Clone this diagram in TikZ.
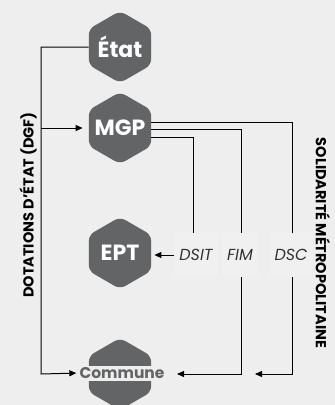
\documentclass[tikz,border=0pt]{standalone}
\usepackage{fontspec}
\setmainfont{Poppins}
\usetikzlibrary{shapes.geometric,arrows.meta}
\definecolor{bgc}{HTML}{EDEEED}
\definecolor{hexc}{HTML}{636466}
\definecolor{boxc}{HTML}{F0F0F0}
\begin{document}
\begin{tikzpicture}[x=1pt,y=-1pt,
  hex/.style={regular polygon, regular polygon sides=6, shape border rotate=30, minimum size=72pt, inner sep=0pt, fill=hexc, rounded corners=6pt},
  hextext/.style={text=white, inner sep=0pt, font=\bfseries\fontsize{22}{22}\selectfont},
  lbl/.style={fill=boxc, minimum height=44pt, inner xsep=5pt, inner ysep=0pt, font=\itshape\fontsize{16}{16}\selectfont, text=black!80},
  conn/.style={draw=black, line width=1pt},
  arr/.style={conn, -{Triangle[length=7pt,width=6pt]}},
  side/.style={inner sep=0pt, font=\bfseries\fontsize{14.5}{14.5}\selectfont}
]
\fill[bgc] (0,0) rectangle (335,405);
\useasboundingbox (0,0) rectangle (335,405);
% hexagons
\node[hex] (etat) at (120,47) {};
\node[hextext] (etattxt) at (etat.center) {État};
\node[hex] (mgp) at (120,128) {};
\node[hextext] (mgptxt) at (mgp.center) {MGP};
\node[hex] (ept) at (120,253) {};
\node[hextext] (epttxt) at (ept.center) {EPT};
\node[hex] (communehex) at (120,374) {};
\fill[bgc] (85,366) rectangle (155,381);
\node[inner sep=0pt, text=hexc, font=\bfseries\fontsize{15.5}{15.5}\selectfont] (commune) at (122,373) {Commune};
% labels
\node[lbl] (dsit) at (196,255) {DSIT};
\node[lbl] (fim) at (240,255) {FIM};
\node[lbl] (dsc) at (291,255) {DSC};
% side labels
\node[side, rotate=90] (dgf) at (28,205) {DOTATIONS D'ÉTAT (DGF)};
\node[side, rotate=-90] (sol) at (323,243) {SOLIDARITÉ MÉTROPOLITAINE};
% coordinates
\coordinate (L1) at (41,47);
\coordinate (L2) at (41,374);
\coordinate (L3) at (41,128);
\coordinate (xD) at (193,0);
\coordinate (xF) at (241,0);
\coordinate (xC) at (292,0);
\coordinate (A2) at (177,374);
\coordinate (A3) at (255,374);
% connectors
\draw[arr, shorten >=3pt] (etat.west) -- (L1) -- (L2) -- (commune.west);
\draw[arr, shorten >=6pt] (L3) -- (mgp.west);
\draw[conn] ([yshift=-9pt]mgp.east) -| (xD |- dsit.north);
\draw[arr, shorten >=3pt] (dsit.west) -- (dsit.west -| ept.east);
\draw[conn] ([yshift=-1pt]mgp.east) -| (xF |- fim.north);
\draw[arr] (xF |- fim.south) |- (A2);
\draw[conn] ([yshift=6pt]mgp.east) -| (xC |- dsc.north);
\draw[arr] (xC |- dsc.south) |- (A3);
\end{tikzpicture}
\end{document}
